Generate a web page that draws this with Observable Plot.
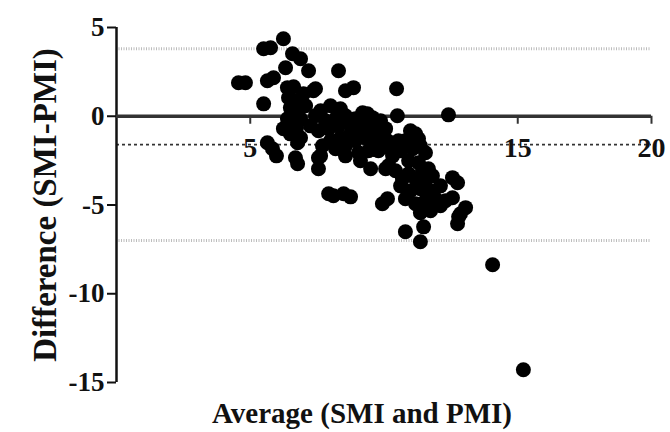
<!DOCTYPE html>
<html>
<head>
<meta charset="utf-8">
<script src="https://cdn.jsdelivr.net/npm/d3@7"></script>
<script src="https://cdn.jsdelivr.net/npm/@observablehq/plot@0.6"></script>
<style>
  html, body { margin: 0; padding: 0; background: #fff; }
  #chart { width: 670px; height: 432px; }
</style>
</head>
<body>
<div id="chart"></div>
<script>
// Average (SMI and PMI)
const avgValues = [
  6.24, 5.50, 5.76, 6.58, 6.88, 6.32, 7.18, 4.56, 4.82, 5.64,
  5.87, 6.39, 6.62, 7.44, 5.50, 8.30, 8.56, 8.86, 6.99, 7.36,
  10.47, 12.41, 10.50, 6.43, 6.69, 6.50, 6.77, 6.39, 6.62, 6.88,
  6.24, 6.50, 6.73, 6.88, 6.77, 5.64, 5.83, 5.98, 6.69, 6.77,
  7.55, 7.55, 7.93, 7.07, 7.25, 7.63, 8.00, 8.37, 8.56, 8.19,
  7.81, 7.44, 7.55, 7.93, 8.30, 8.67, 8.93, 9.20, 9.38, 9.57,
  9.87, 10.06, 9.68, 9.31, 9.05, 8.75, 8.37, 8.00, 7.70, 8.19,
  8.56, 8.93, 9.31, 9.57, 9.87, 10.13, 10.17, 9.79, 9.42, 9.05,
  8.56, 9.12, 9.50, 10.06, 10.17, 7.63, 8.11, 8.49, 8.75, 9.94,
  10.13, 10.99, 11.18, 11.29, 10.80, 10.62, 11.07, 11.36, 11.55, 10.92,
  11.29, 11.44, 11.66, 10.92, 11.18, 11.55, 11.81, 10.62, 10.99, 11.36,
  11.74, 12.11, 11.93, 11.55, 11.18, 10.80, 12.30, 12.56, 12.75, 12.56,
  13.05, 12.86, 12.75, 12.79, 10.80, 11.48, 11.36, 14.06, 15.21, 12.11,
  11.74, 11.36, 10.54, 10.32, 10.43, 10.69
];
// Difference (SMI-PMI)
const diffValues = [
  4.37, 3.80, 3.86, 3.52, 3.24, 2.73, 2.56, 1.89, 1.89, 2.00,
  2.17, 1.61, 1.66, 1.55, 0.70, 2.56, 1.44, 1.61, 1.27, 1.44,
  1.55, 0.08, 0.03, 1.04, 0.87, 0.48, 0.20, -0.14, -0.37, -0.14,
  -0.70, -0.99, -0.65, -1.21, -1.49, -1.49, -1.83, -2.23, -2.34, -2.68,
  -2.34, -2.96, -4.37, 0.59, -0.54, 0.31, 0.59, 0.42, 0.03, -0.14,
  -0.25, 0.03, -0.82, -0.70, -0.54, -0.37, -0.14, 0.20, 0.14, -0.08,
  -0.25, -0.70, -0.70, -0.54, -0.82, -0.99, -1.21, -1.38, -1.66, -1.83,
  -1.66, -1.38, -1.21, -1.38, -1.27, -1.38, -1.77, -1.94, -1.94, -2.06,
  -2.23, -2.51, -2.96, -2.96, -2.79, -2.23, -4.48, -4.37, -4.54, -4.93,
  -4.65, -0.82, -0.99, -1.27, -1.38, -1.94, -1.83, -1.66, -2.06, -2.51,
  -2.62, -3.07, -2.96, -3.24, -3.52, -3.63, -3.35, -3.92, -4.20, -4.08,
  -4.20, -3.92, -4.65, -4.76, -4.93, -4.65, -4.76, -3.46, -3.75, -4.59,
  -5.15, -5.49, -6.06, -5.66, -6.51, -6.23, -7.07, -8.37, -14.28, -5.04,
  -5.32, -5.44, -1.38, -2.23, -3.07, -3.52
];
const meanBias = [-1.6];
const limitsOfAgreement = [3.8, -7.0];
const xTicks = [5, 10, 15, 20];
const yTicks = [-15, -10, -5, 0, 5];
const xDomain = [0, 20];
const yDomain = [-15, 5];
const xTitle = "Average (SMI and PMI)";
const yTitle = "Difference (SMI-PMI)";

const points = avgValues.map((a, i) => ({avg: a, diff: diffValues[i]}));

const chart = Plot.plot({
  width: 670,
  height: 432,
  marginLeft: 116,
  marginRight: 19,
  marginTop: 27,
  marginBottom: 50,
  x: {domain: xDomain, axis: null},
  y: {domain: yDomain, axis: null},
  style: {fontFamily: "'Liberation Serif', 'Times New Roman', serif", fontWeight: "bold", color: "#111", background: "#fff"},
  marks: [
    // limits of agreement
    Plot.ruleY(limitsOfAgreement, {x1: xDomain[0], x2: xDomain[1], stroke: "#bdbdbd", strokeWidth: 3, strokeDasharray: "1,1.5"}),
    // mean bias
    Plot.ruleY(meanBias, {x1: xDomain[0], x2: xDomain[1], stroke: "#333", strokeWidth: 1.6, strokeDasharray: "3,3"}),
    // y axis
    Plot.ruleX([0], {y1: yDomain[0], y2: yDomain[1], stroke: "#111", strokeWidth: 2.5}),
    Plot.axisY(yTicks, {ticks: yTicks, tickSize: 9, tickPadding: 3, tickFormat: d => String(d), fontSize: 27, fontWeight: "bold", stroke: "#111", strokeWidth: 2, label: null}),
    // x axis drawn at y = 0
    Plot.ruleY([0], {x1: xDomain[0], x2: xDomain[1], stroke: "#333", strokeWidth: 3.5}),
    Plot.ruleX(xTicks, {y1: 0, y2: -0.45, stroke: "#333", strokeWidth: 2}),
    Plot.text(xTicks, {x: d => d, y: 0, dy: 32, text: d => String(d), fontSize: 28, fontWeight: "bold", fill: "#111"}),
    // titles
    Plot.text([yTitle], {frameAnchor: "left", dx: -71, rotate: -90, textAnchor: "middle", lineAnchor: "middle", fontSize: 33, fontWeight: "bold", fill: "#111"}),
    Plot.text([xTitle], {frameAnchor: "bottom", dx: -22, dy: 31, textAnchor: "middle", lineAnchor: "middle", fontSize: 29, fontWeight: "bold", fill: "#111"}),
    // data points
    Plot.dot(points, {x: "avg", y: "diff", r: 7.5, fill: "#000", stroke: null})
  ]
});
document.getElementById("chart").appendChild(chart);
</script>
</body>
</html>
